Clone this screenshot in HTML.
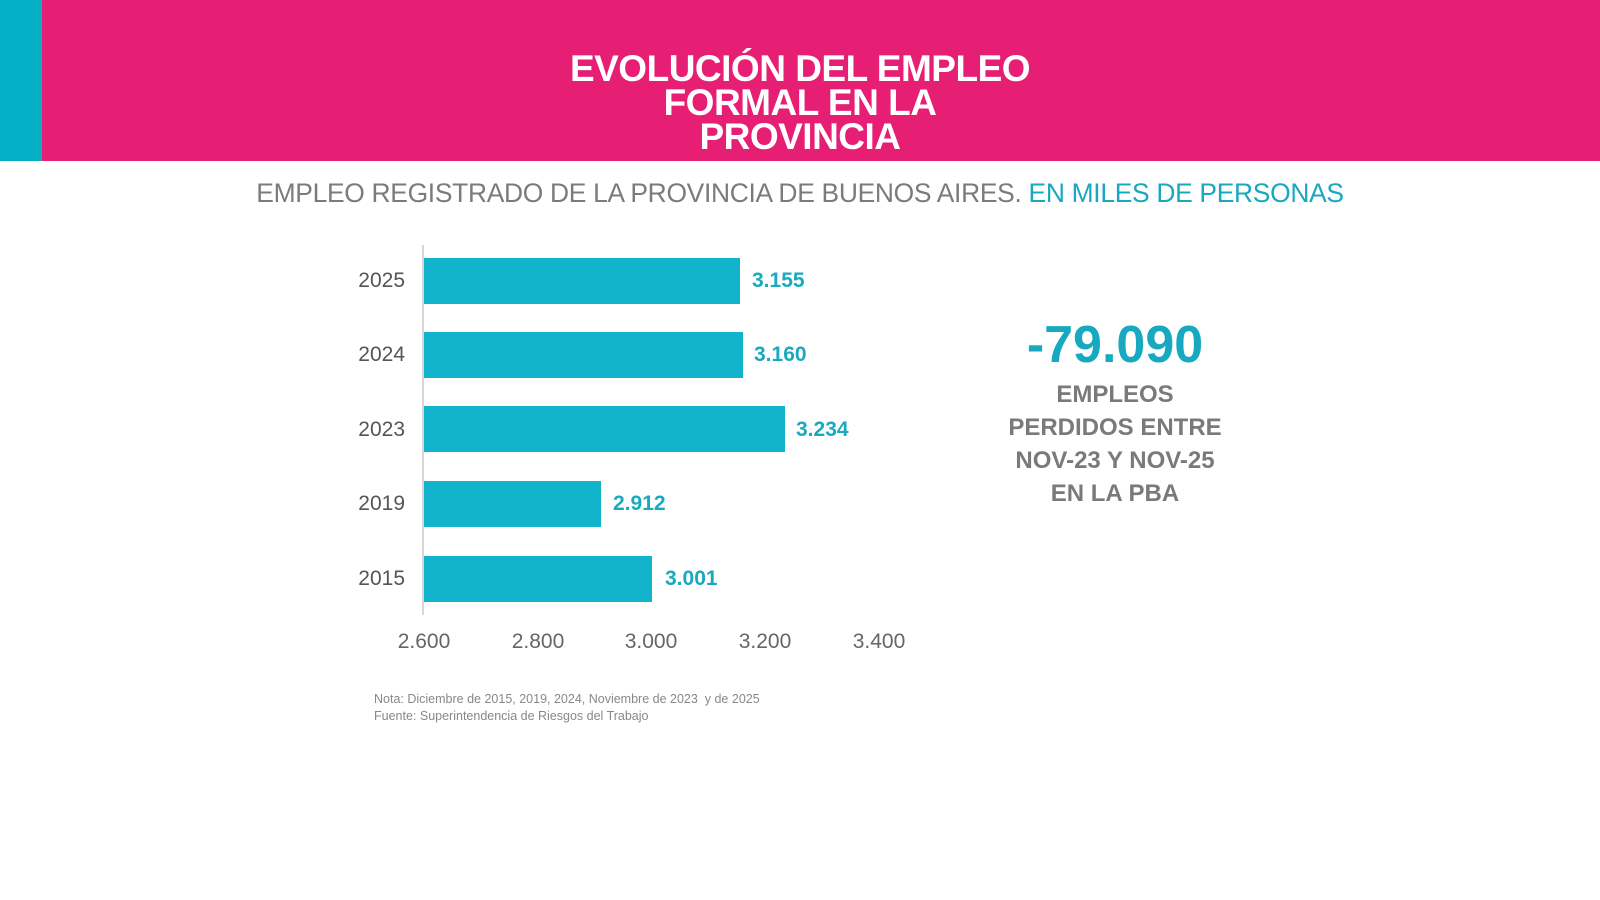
<!DOCTYPE html>
<html><head><meta charset="utf-8"><style>
body{margin:0;width:1600px;height:900px;background:#fff;position:relative;overflow:hidden;font-family:"Liberation Sans",sans-serif}
.hdr{position:absolute;left:0;top:0;width:1600px;height:161px;background:#E61F74}
.strip{position:absolute;left:0;top:0;width:42px;height:161px;background:#05AFC6}
.title{position:absolute;left:0;width:1600px;text-align:center;color:#fff;font-weight:bold;font-size:37px;line-height:34px;top:52px;letter-spacing:-0.5px}
.sub{position:absolute;left:0;width:1600px;text-align:center;top:178px;font-size:26.4px;color:#7b7b7b;letter-spacing:-0.3px}
.sub span{color:#18A8BF}
.abs{position:absolute}
.yl{position:absolute;right:1195px;font-size:21px;color:#555;transform:translateY(-50%)}
.bar{position:absolute;left:424px;height:46px;background:#12B4CB}
.val{position:absolute;font-size:21px;font-weight:bold;color:#1AA9BE;transform:translateY(-50%)}
.tk{position:absolute;top:630px;font-size:21px;color:#666;transform:translateX(-50%)}
.big{position:absolute;left:915px;width:400px;text-align:center;top:315px;font-size:52px;font-weight:bold;color:#17A9C0}
.txt{position:absolute;left:915px;width:400px;text-align:center;top:378px;font-size:24px;line-height:33px;font-weight:bold;color:#7a7a7a}
.note{position:absolute;left:374px;top:691px;font-size:12.5px;line-height:17px;color:#888}
</style></head><body>
<div class="hdr"></div><div class="strip"></div>
<div class="title">EVOLUCIÓN DEL EMPLEO<br>FORMAL EN LA<br>PROVINCIA</div>
<div class="sub">EMPLEO REGISTRADO DE LA PROVINCIA DE BUENOS AIRES. <span>EN MILES DE PERSONAS</span></div>
<div class="abs" style="left:422px;top:245px;width:2px;height:370px;background:#d6d6d6"></div>

<div class="bar" style="top:258px;width:316px"></div>
<div class="bar" style="top:332px;width:319px"></div>
<div class="bar" style="top:406px;width:361px"></div>
<div class="bar" style="top:481px;width:177px"></div>
<div class="bar" style="top:556px;width:228px"></div>

<div class="yl" style="top:281px">2025</div>
<div class="yl" style="top:355px">2024</div>
<div class="yl" style="top:430px">2023</div>
<div class="yl" style="top:504px">2019</div>
<div class="yl" style="top:579px">2015</div>

<div class="val" style="left:752px;top:281px">3.155</div>
<div class="val" style="left:754px;top:355px">3.160</div>
<div class="val" style="left:796px;top:430px">3.234</div>
<div class="val" style="left:613px;top:504px">2.912</div>
<div class="val" style="left:665px;top:579px">3.001</div>

<div class="tk" style="left:424px">2.600</div>
<div class="tk" style="left:538px">2.800</div>
<div class="tk" style="left:651px">3.000</div>
<div class="tk" style="left:765px">3.200</div>
<div class="tk" style="left:879px">3.400</div>

<div class="big">-79.090</div>
<div class="txt">EMPLEOS<br>PERDIDOS ENTRE<br>NOV-23 Y NOV-25<br>EN LA PBA</div>
<div class="note">Nota: Diciembre de 2015, 2019, 2024, Noviembre de 2023&nbsp; y de 2025<br>Fuente: Superintendencia de Riesgos del Trabajo</div>
</body></html>
